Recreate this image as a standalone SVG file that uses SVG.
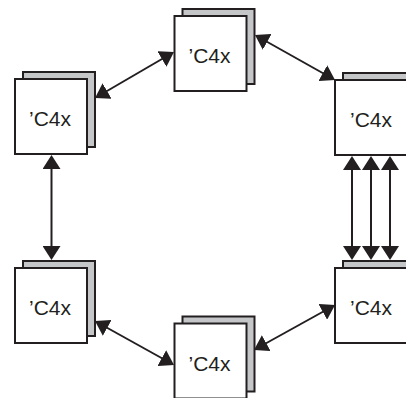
<svg xmlns="http://www.w3.org/2000/svg" width="406" height="398" viewBox="0 0 406 398">
<style>
.back{fill:#c5c6c8;stroke:#231f20;stroke-width:2}
.front{fill:#ffffff;stroke:#231f20;stroke-width:2}
.lbl{font-family:"Liberation Sans",Arial,sans-serif;font-size:21px;fill:#231f20;text-anchor:middle}
.conn{stroke:#231f20;stroke-width:2;fill:none;marker-start:url(#ah);marker-end:url(#ah)}
</style>
<defs>
<marker id="ah" markerUnits="userSpaceOnUse" markerWidth="14" markerHeight="18" refX="11" refY="9" orient="auto-start-reverse" viewBox="0 0 14 18">
<path d="M0,0 L14,9 L0,18 z" fill="#231f20"/>
</marker>
</defs>
<rect width="406" height="398" fill="#ffffff"/>
<g id="node-left-top">
<rect class="back" x="23" y="72" width="72" height="75"/>
<rect class="front" x="15" y="79" width="72" height="75"/>
<text class="lbl" x="50" y="126">’C4x</text>
</g>
<g id="node-top">
<rect class="back" x="182.5" y="9" width="72" height="75"/>
<rect class="front" x="174.5" y="16" width="72" height="75"/>
<text class="lbl" x="209.5" y="63">’C4x</text>
</g>
<g id="node-right-top">
<rect class="back" x="343" y="73" width="72" height="75"/>
<rect class="front" x="335" y="80" width="72" height="75"/>
<text class="lbl" x="371" y="127">’C4x</text>
</g>
<g id="node-left-bottom">
<rect class="back" x="23" y="261" width="72" height="75"/>
<rect class="front" x="15" y="268" width="72" height="75"/>
<text class="lbl" x="50" y="314.5">’C4x</text>
</g>
<g id="node-bottom">
<rect class="back" x="182.5" y="316.5" width="72" height="75"/>
<rect class="front" x="174.5" y="323.5" width="72" height="75"/>
<text class="lbl" x="209.5" y="370.5">’C4x</text>
</g>
<g id="node-right-bottom">
<rect class="back" x="343" y="261" width="72" height="75"/>
<rect class="front" x="335" y="268" width="72" height="75"/>
<text class="lbl" x="371" y="314.5">’C4x</text>
</g>
<g id="connectors">
<line class="conn" x1="97.6" y1="96.5" x2="171.4" y2="53.5"/>
<line class="conn" x1="257.6" y1="36.5" x2="332.4" y2="78.5"/>
<line class="conn" x1="51.5" y1="158" x2="51.5" y2="257"/>
<line class="conn" x1="97.6" y1="322.5" x2="171.4" y2="363.5"/>
<line class="conn" x1="256.6" y1="348.5" x2="332.4" y2="306.5"/>
<line class="conn" x1="352" y1="159" x2="352" y2="257"/>
<line class="conn" x1="371" y1="159" x2="371" y2="257"/>
<line class="conn" x1="390" y1="159" x2="390" y2="257"/>
</g>
</svg>
